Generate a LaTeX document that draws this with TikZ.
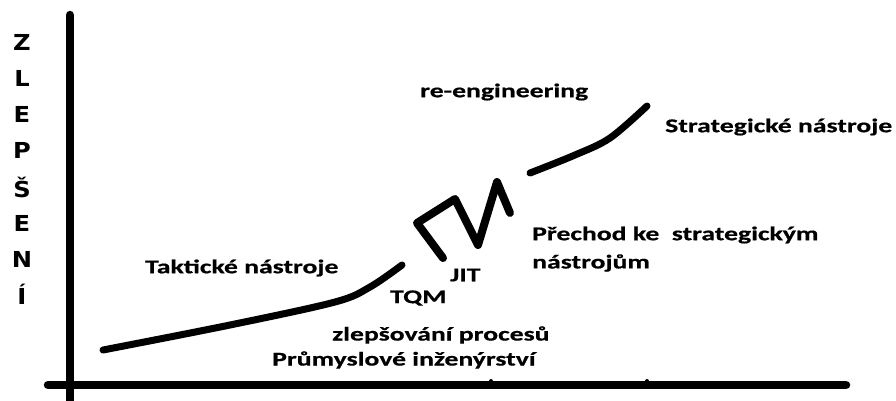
\documentclass[tikz,border=0pt]{standalone}
\usepackage{fontspec}
\setmainfont{Carlito}
\newfontfamily\labelfont[FakeStretch=1.42,FakeBold=0.6]{Carlito Bold}
\newfontfamily\axisfont[FakeStretch=1.1]{DejaVu Sans Bold}
\begin{document}
\begin{tikzpicture}[x=1pt,y=-1pt,
  axisline/.style={line width=8.5pt,line cap=round},
  trend/.style={line width=7pt,line cap=round,line join=round},
  lbl/.style={inner sep=0pt,font=\labelfont\fontsize{19.5}{22}\selectfont,text=black},
  axislbl/.style={inner sep=0pt,font=\axisfont\fontsize{22}{24}\selectfont}]
\useasboundingbox (0,0) rectangle (896,400);
\fill[white] (0,0) rectangle (896,400);

% axes
\coordinate (ytop) at (70,15);
\coordinate (ybot) at (70,404);
\coordinate (xl) at (48,385);
\coordinate (xr) at (846,385);
\draw[axisline] (ytop) -- (ybot);
\draw[axisline] (xl) -- (xr);
% small marks on the horizontal axis
\coordinate (m1) at (491,381);
\coordinate (m2) at (647,381);
\fill (m1) circle (2pt);
\fill (m2) circle (2pt);

% vertical axis title, one letter per line
\foreach \ch/\yy [count=\i] in {Z/42,L/78,E/114,P/150,Š/187,E/223,N/259,Í/294}
  \node[axislbl] (v\i) at (22,\yy) {\ch};

% tactical phase
\draw[trend] plot[smooth,tension=0.55] coordinates
  {(103,350) (230,325) (335,302) (370,287) (402,265)};
% transition zigzag
\draw[trend,line width=8pt] (443,258) -- (417,223) -- (455,199) -- (478,245) -- (497,182) -- (510,213);
% strategic phase
\draw[trend] plot[smooth,tension=0.55] coordinates
  {(530,173) (575,155) (610,138) (647,106)};

% labels
\node[lbl,anchor=west] (reeng) at (420,92) {re-engineering};
\node[lbl,anchor=west] (strat) at (665,127) {Strategické nástroje};
\node[lbl,anchor=west] (prech) at (532,235) {Přechod ke\ \ strategickým};
\node[lbl,anchor=west] (prech2) at (532,263) {nástrojům};
\node[lbl,anchor=west] (takt) at (145,268) {Taktické nástroje};
\node[lbl,anchor=west] (jit) at (450,275) {JIT};
\node[lbl,anchor=west] (tqm) at (390,298) {TQM};
\node[lbl,anchor=west] (zlep) at (332,335) {zlepšování procesů};
\node[lbl,anchor=west] (prum) at (272,360) {Průmyslové inženýrství};
\end{tikzpicture}
\end{document}
